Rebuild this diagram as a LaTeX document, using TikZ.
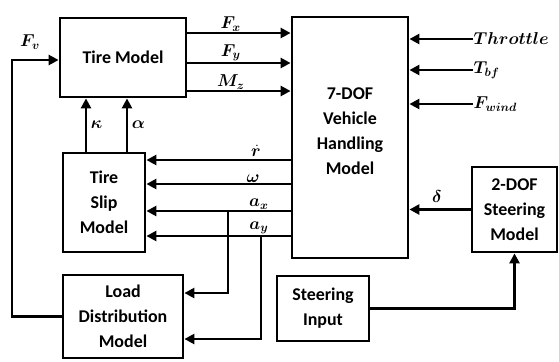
\documentclass[tikz,border=0pt]{standalone}
\usepackage{amsmath}
\usepackage{bm}
\usepackage{fontspec}
\setmainfont{Carlito}
\usetikzlibrary{arrows.meta,positioning}
\tikzstyle{block} = [draw, line width=2.8bp, rectangle, align=center, inner sep=0pt, font=\fontsize{18}{25}\selectfont\bfseries]
\tikzstyle{sig} = [draw, line width=2.8bp, -{Triangle[length=10bp,width=10bp]}]
\tikzstyle{lbl} = [font=\fontsize{18}{20}\selectfont, inner sep=0.5bp]

\begin{document}
\begin{tikzpicture}[x=1bp,y=-1bp]
          \useasboundingbox (0,0) rectangle (559,361);
          % blocks
          \node[block,minimum width=126bp,minimum height=79bp] (tire) at (123,57.5) {Tire Model};
          \node[block,minimum width=116bp,minimum height=241bp] (veh) at (350,137.5) {7-DOF\\Vehicle\\Handling\\Model\\[-12.5bp]};
          \node[block,minimum width=82bp,minimum height=99bp] (slip) at (104,202.5) {Tire\\Slip\\Model};
          \node[block,minimum width=120bp,minimum height=83bp] (load) at (123,316.5) {Load\\Distribution\\Model};
          \node[block,minimum width=92bp,minimum height=65bp] (sinput) at (323,308.5) {Steering\\Input};
          \node[block,minimum width=85bp,minimum height=85bp] (steer) at (514.5,209.5) {2-DOF\\Steering\\Model};
          % signal levels
          \coordinate (yfx) at (0,33);
          \coordinate (yfy) at (0,63);
          \coordinate (ymz) at (0,91);
          \coordinate (yr) at (0,160);
          \coordinate (yw) at (0,184);
          \coordinate (yax) at (0,211);
          \coordinate (yay) at (0,236);
          \coordinate (ylda) at (0,293);
          \coordinate (yldb) at (0,339);
          \coordinate (xk) at (86,0);
          \coordinate (xal) at (127,0);
          \coordinate (xbra) at (228,0);
          \coordinate (xbrb) at (261,0);
          \coordinate (thr) at (473,39);
          \coordinate (tbf) at (473,70);
          \coordinate (fwd) at (473,104);
          \coordinate (fvc) at (12,60);
          % tire forces
          \draw[sig] (tire.east |- yfx) -- (veh.west |- yfx) node[lbl,pos=0.42,above] (lfx) {$\bm{F_x}$};
          \draw[sig] (tire.east |- yfy) -- (veh.west |- yfy) node[lbl,pos=0.42,above] (lfy) {$\bm{F_y}$};
          \draw[sig] (tire.east |- ymz) -- (veh.west |- ymz) node[lbl,pos=0.42,above] (lmz) {$\bm{M_z}$};
          % external inputs
          \draw[sig] (thr) -- (veh.east |- thr);
          \draw[sig] (tbf) -- (veh.east |- tbf);
          \draw[sig] (fwd) -- (veh.east |- fwd);
          \node[lbl,right] (lthr) at (thr) {$\bm{Throttle}$};
          \node[lbl,right] (ltbf) at (tbf) {$\bm{T_{bf}}$};
          \node[lbl,right] (lfwd) at (fwd) {$\bm{F_{wind}}$};
          % states back to slip model
          \draw[sig] (veh.west |- yr) -- (slip.east |- yr) node[lbl,pos=0.24,above=1.5bp] (lr) {$\bm{\dot r}$};
          \draw[sig] (veh.west |- yw) -- (slip.east |- yw) node[lbl,pos=0.26,above] (lw) {$\bm{\omega}$};
          \draw[sig] (veh.west |- yax) -- (slip.east |- yax) node[lbl,pos=0.22,above] (lax) {$\bm{a_x}$};
          \draw[sig] (veh.west |- yay) -- (slip.east |- yay) node[lbl,pos=0.22,above] (lay) {$\bm{a_y}$};
          \draw[sig] (xbra |- yax) |- (load.east |- ylda);
          \draw[sig] (xbrb |- yay) |- (load.east |- yldb);
          % slip quantities
          \draw[sig] (slip.north -| xk) -- (tire.south -| xk) node[lbl,midway,right=3bp] (lk) {$\bm{\kappa}$};
          \draw[sig] (slip.north -| xal) -- (tire.south -| xal) node[lbl,midway,right=3bp] (lal) {$\bm{\alpha}$};
          % vertical load feedback
          \draw[sig] (load.west) -| (fvc) -- (tire.west |- fvc);
          \node[lbl] (lfv) at (30,42) {$\bm{F_v}$};
          % steering
          \draw[sig] (steer.west) -- (veh.east |- steer.west) node[lbl,pos=0.55,above=5bp] (ldelta) {$\bm{\delta}$};
          \draw[sig] (sinput.east) -| (steer.south);
        \end{tikzpicture}
\end{document}
